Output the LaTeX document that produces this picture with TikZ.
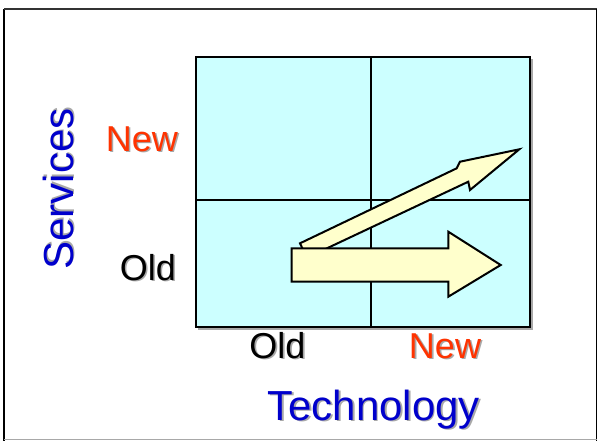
\documentclass[tikz,border=0pt]{standalone}
\usepackage{fontspec}
\setmainfont{Liberation Sans}
\usetikzlibrary{calc}
\definecolor{axisblue}{HTML}{0000CC}
\definecolor{neworange}{HTML}{FF3300}
\definecolor{cellcyan}{HTML}{CCFFFF}
\definecolor{arrowyellow}{HTML}{FFFFCC}
\definecolor{shadowgray}{HTML}{A8A8A8}
\newcommand{\shadowed}[2]{% offset, text
  \rlap{\kern#1\raisebox{-#1}{\textcolor{shadowgray}{#2}}}#2}
\tikzset{
  lbl/.style={inner sep=0pt, font=\fontsize{36}{40}\selectfont},
  axislbl/.style={inner sep=0pt, font=\fontsize{42}{48}\selectfont, text=axisblue},
  arrowshape/.style={draw=black, line width=2pt, fill=arrowyellow, line join=miter},
}
\begin{document}
\begin{tikzpicture}[x=1pt,y=-1pt]
\useasboundingbox (0,0) rectangle (606,440);
\fill[white] (0,0) rectangle (606,440);
% outer frame
\draw[line width=1.8pt, black] (4,9) -- (4,442);
\draw[line width=1.6pt, black!80] (4,9) -- (596.5,9);
\draw[line width=1.8pt, black] (596.5,9) -- (596.5,442);
\draw[line width=1pt, shadowgray] (4,439.5) -- (596.5,439.5);
% grid
\fill[shadowgray] (198,59) rectangle (532.5,330);
\fill[cellcyan] (196,57) rectangle (530,327);
\draw[line width=1.5pt] (371,57) -- (371,327);
\draw[line width=1.5pt] (196,200) -- (530,200);
\draw[line width=2.2pt] (196,57) rectangle (530,327);
% diagonal arrow
\draw[arrowshape] (306.8,257.8) -- (300,243.3) -- (456.7,168.3) -- (460,161.7)
  -- (519.3,149.3) -- (470,190) -- (468.3,181.7) -- cycle;
% straight arrow
\draw[arrowshape] (291.7,248.3) -- (448.3,248.3) -- (448.3,231.7) -- (500.7,265)
  -- (448.3,296.7) -- (448.3,281.7) -- (291.7,281.7) -- cycle;
% labels
\node[lbl, anchor=base east, text=neworange] (snew) at (178,151) {\shadowed{1.6pt}{New}};
\node[lbl, anchor=base east, text=black] (sold) at (176,280) {\shadowed{1.6pt}{Old}};
\node[lbl, anchor=base, text=black] (told) at (277.5,358) {\shadowed{1.6pt}{Old}};
\node[lbl, anchor=base, text=neworange] (tnew) at (445,358) {\shadowed{1.6pt}{New}};
\node[axislbl, anchor=base] (tech) at (373.5,420) {\shadowed{1.8pt}{Technology}};
\node[axislbl, anchor=base, rotate=90] (serv) at (73,189) {\shadowed{1.8pt}{Services}};
\end{tikzpicture}
\end{document}
